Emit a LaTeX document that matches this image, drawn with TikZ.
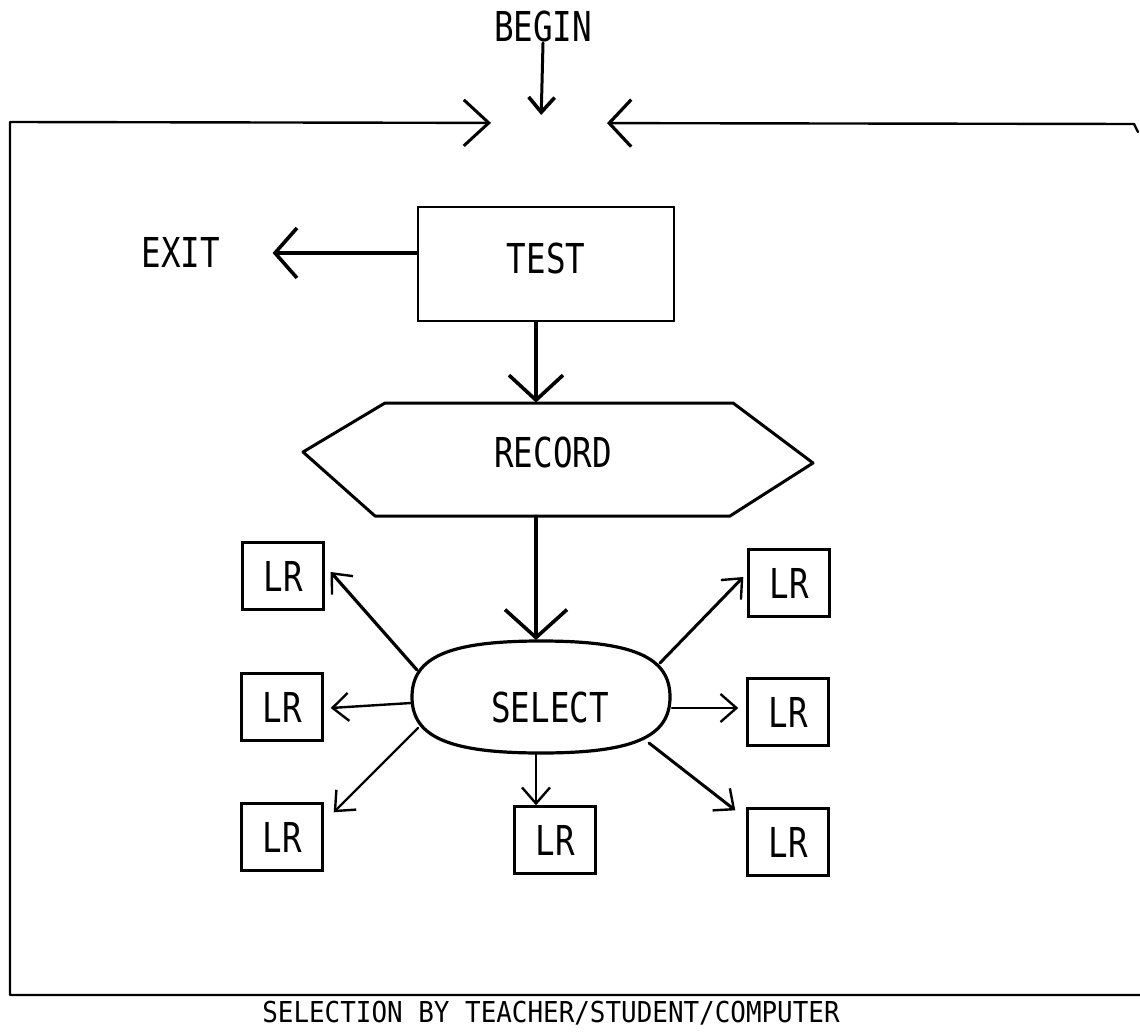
\documentclass[tikz,border=0pt]{standalone}
\usepackage{fontspec}
\newfontfamily\labfont[FakeStretch=0.79]{DejaVu Sans Mono}
\newfontfamily\capfont[FakeStretch=0.90]{DejaVu Sans Mono}
\usetikzlibrary{arrows.meta,calc}
\begin{document}
\begin{tikzpicture}[x=0.5pt,y=-0.5pt,
  lab/.style={font={\labfont\fontsize{20.6pt}{24pt}\selectfont}, inner sep=0pt},
  capt/.style={font={\capfont\fontsize{14.4pt}{17pt}\selectfont}, inner sep=0pt},
  frame/.style={line width=1.2pt, line cap=round, line join=round},
  boxed/.style={lab, draw, line width=1.1pt},
  lrbox/.style={boxed, line width=1.2pt, minimum width=40.5pt, minimum height=33.5pt},
  bigarrow/.style={line width=1.8pt, line cap=round,
    -{Straight Barb[length=12.5pt, width=27pt, line width=1.8pt]}},
  smallarrow/.style={line width=1.2pt, line cap=round,
    -{Straight Barb[length=8pt, width=14pt, line width=1.2pt]}}
]
\useasboundingbox (0,0) rectangle (1140,1032);

% entry point and outer loop
\node[lab, anchor=base] (begin) at (543,42) {BEGIN};
\coordinate (join) at (541,123);
\coordinate (tl) at (10,122);
\coordinate (tr) at (1134,124);
\coordinate (bl) at (10,995);
\coordinate (br) at (1140,995);
\coordinate (axis) at (536,0);

\draw[line width=1.5pt, line cap=round,
  -{Straight Barb[length=7.5pt, width=13pt, line width=1.8pt]}, shorten >=4pt]
  (begin.south) -- (join);
\draw[frame, -{Straight Barb[length=12.5pt, width=23pt, line width=1.5pt]}, shorten >=25pt]
  (br) -- (bl) -- (tl) -- (join);
\draw[frame, -{Straight Barb[length=11pt, width=23.5pt, line width=1.6pt]}, shorten >=33pt]
  ($(tr)+(4,8)$) -- (tr) -- (join);

% TEST and EXIT
\node[boxed, text height=10pt, text depth=0pt, minimum width=128pt, minimum height=57pt]
  (test) at (546,264) {TEST};
\node[lab, anchor=base] (exit) at (181,268) {EXIT};
\draw[bigarrow, -{Straight Barb[length=11pt, width=25pt, line width=1.8pt]}, shorten >=26pt]
  (test.west |- exit.center) -- (exit.east);

% RECORD
\node[lab, text height=8pt, text depth=0pt, minimum width=175pt, minimum height=56.5pt]
  (rec) at (553,459.5) {RECORD};
\draw[line width=1.5pt, line join=round]
  (303,452) -- (385,403) -- (733,403) -- (813,463) -- (730,516) -- (375,516) -- cycle;
\draw[bigarrow] (test.south -| axis) -- (rec.north -| axis);

% SELECT
\node[lab] (sel) at (550,707) {SELECT};
\coordinate (oc) at ($(sel.center)+(-9,-10)$);
\coordinate (otop) at ($(oc)+(0,-57)$);
\coordinate (obot) at ($(oc)+(0,57)$);
\draw[line width=1.6pt]
  ($(oc)+(-129,0)$) .. controls ($(oc)+(-129,-40)$) and ($(oc)+(-92,-56)$) ..
  ($(oc)+(0,-56)$) .. controls ($(oc)+(92,-56)$) and ($(oc)+(129,-40)$) ..
  ($(oc)+(129,0)$) .. controls ($(oc)+(129,40)$) and ($(oc)+(92,56)$) ..
  ($(oc)+(0,56)$) .. controls ($(oc)+(-92,56)$) and ($(oc)+(-129,40)$) ..
  cycle;
\draw[bigarrow, -{Straight Barb[length=14pt, width=31pt, line width=1.8pt]}]
  (rec.south -| axis) -- (otop -| axis);

% learning resources
\node[lrbox] (lrTL) at (283,576) {LR};
\node[lrbox] (lrML) at (282,707) {LR};
\node[lrbox] (lrBL) at (282,837) {LR};
\node[lrbox] (lrBC) at (555,840) {LR};
\node[lrbox] (lrTR) at (789,583) {LR};
\node[lrbox] (lrMR) at (788,712) {LR};
\node[lrbox] (lrBR) at (788,842) {LR};

\draw[smallarrow, line width=1.6pt] ($(oc)+(-124,-27)$) -- ($(lrTL.east)+(6,-4)$);
\draw[smallarrow] ($(oc)+(-130,6)$) -- ($(lrML.east)+(7,1)$);
\draw[smallarrow] ($(oc)+(-123,31)$) -- ($(lrBL.north east)+(10,10)$);
\draw[smallarrow] (obot -| axis) -- (lrBC.north -| axis);
\draw[smallarrow, line width=1.5pt] ($(oc)+(119,-34)$) -- ($(lrTR.west)+(-4,-6)$);
\draw[smallarrow] ($(oc)+(131,11)$) -- ($(lrMR.west)+(-8,-4)$);
\draw[smallarrow, line width=1.5pt] ($(oc)+(108,46)$) -- ($(lrBR.north west)+(-11,3)$);

% caption
\node[capt, anchor=base] (caption) at (551,1022) {SELECTION BY TEACHER/STUDENT/COMPUTER};
\end{tikzpicture}
\end{document}
